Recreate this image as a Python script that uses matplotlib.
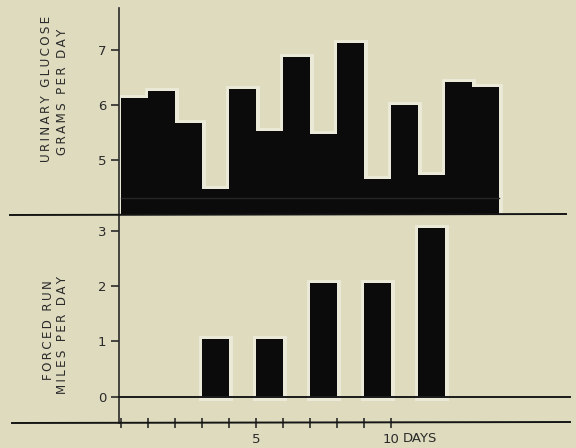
import matplotlib
matplotlib.use("Agg")
import matplotlib.pyplot as plt
from matplotlib.lines import Line2D

# Daily urinary glucose (grams per day), days 1-14
glucose_days = list(range(14))
glucose_values = [6.13, 6.25, 5.67, 4.47, 6.29, 5.53, 6.87, 5.47, 7.13, 4.65, 6.00, 4.73, 6.42, 6.33]

# Forced run distance (miles per day)
run_days = [3, 5, 7, 9, 11]
run_values = [1.05, 1.05, 2.05, 2.05, 3.05]

glucose_ticks = [5, 6, 7]
run_ticks = [0, 1, 2, 3]
day_ticks = list(range(11))
day_labels = ["" if d not in (5, 10) else str(d) for d in day_ticks]

BG = "#dedbbf"
HALO = "#ebead8"
INK = "#0b0b0b"
TXT = "#2a2a2a"
TS = "\u2009"  # thin space used for letter spacing


def spaced(s):
    return (TS + " " + TS).join(TS.join(w) for w in s.split(" "))


W, H = 576, 448
fig = plt.figure(figsize=(W / 100, H / 100), dpi=100, facecolor=BG)

x_left, x_right = 119 / W, 566 / W
y_split = 1 - 215 / H
ax_top = fig.add_axes([x_left, y_split, x_right - x_left, (215 - 8) / H])
ax_bot = fig.add_axes([x_left, 1 - 423 / H, x_right - x_left, (423 - 215) / H])

xlim = (-0.074, 16.48)


def halo_bars(ax, x, h, bottom=0.0):
    # light glow behind the bar silhouettes, then the solid bars on top
    ax.bar(x, h, bottom=bottom, width=1.0, align="edge", color=HALO,
           edgecolor=HALO, linewidth=5, zorder=1)
    ax.bar(x, h, bottom=bottom, width=1.0, align="edge", color=INK,
           linewidth=0, zorder=2)


# --- upper panel: glucose ---
ax_top.set_facecolor(BG)
base = 4.0
halo_bars(ax_top, glucose_days, [v - base for v in glucose_values], bottom=base)
ax_top.plot([0, 14], [4.31, 4.31], color="#262626", lw=1.0, zorder=3)
ax_top.set_xlim(*xlim)
ax_top.set_ylim(base, 7.76)
ax_top.set_yticks(glucose_ticks)
ax_top.set_yticklabels([str(t) for t in glucose_ticks])
ax_top.set_xticks([])
for s in ("top", "right", "bottom"):
    ax_top.spines[s].set_visible(False)
ax_top.spines["left"].set_color(TXT)
ax_top.spines["left"].set_linewidth(1.2)
ax_top.spines["left"].set_zorder(4)
ax_top.tick_params(axis="y", direction="out", length=6, width=1.2, color=TXT,
                   labelsize=9.5, labelcolor=TXT, pad=3)

# --- lower panel: forced run ---
ax_bot.set_facecolor(BG)
halo_bars(ax_bot, run_days, run_values)
ax_bot.axhline(0, xmin=0, xmax=1.01, color="#1a1a1a", lw=1.4, clip_on=False, zorder=3)
ax_bot.set_xlim(*xlim)
ax_bot.set_ylim(-0.47, 3.28)
ax_bot.set_yticks(run_ticks)
ax_bot.set_yticklabels([str(t) for t in run_ticks])
ax_bot.set_xticks(day_ticks)
ax_bot.set_xticklabels(day_labels)
for s in ("top", "right", "bottom"):
    ax_bot.spines[s].set_visible(False)
ax_bot.spines["left"].set_color(TXT)
ax_bot.spines["left"].set_linewidth(1.2)
ax_bot.tick_params(axis="y", direction="out", length=6, width=1.2, color=TXT,
                   labelsize=9.5, labelcolor=TXT, pad=3)
ax_bot.tick_params(axis="x", direction="inout", length=7, width=1.2, color=TXT,
                   labelsize=9.5, labelcolor=TXT, pad=4)
ax_bot.annotate("DAYS", xy=(10.45, 0), xycoords=("data", "axes fraction"),
                xytext=(0, -6.5), textcoords="offset points", ha="left", va="top",
                fontsize=9.5, color=TXT)

# separator and baseline rules running past the axes
fig.add_artist(Line2D([10 / W, 566 / W], [1 - 215 / H, 1 - 214 / H], color="#151515", lw=1.4))
fig.add_artist(Line2D([12 / W, 570 / W], [1 - 423 / H, 1 - 422 / H], color="#151515", lw=1.4))

# axis titles
lab = dict(rotation=90, ha="center", va="center", fontsize=8.6, color=TXT)
fig.text(47 / W, 1 - 89 / H, spaced("URINARY GLUCOSE"), **lab)
fig.text(62 / W, 1 - 92 / H, spaced("GRAMS PER DAY"), **lab)
fig.text(49 / W, 1 - 330 / H, spaced("FORCED RUN"), **lab)
fig.text(63 / W, 1 - 335 / H, spaced("MILES PER DAY"), **lab)

fig.savefig("out.png", dpi=100, facecolor=BG)
